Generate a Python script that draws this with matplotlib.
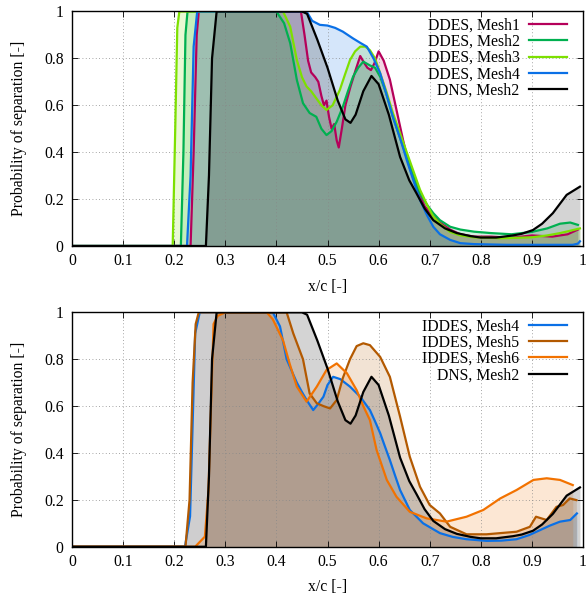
import matplotlib
matplotlib.use("Agg")
import matplotlib.pyplot as plt

plt.rcParams['font.family'] = ['Liberation Serif']
plt.rcParams['font.size'] = 11.3

# DNS reference (shared by both panels)
dns_x = [0, 0.262, 0.268, 0.274, 0.283, 0.45, 0.46, 0.48, 0.50, 0.52, 0.535, 0.545,
         0.555, 0.57, 0.586, 0.60, 0.62, 0.642, 0.66, 0.674, 0.69, 0.707, 0.73, 0.753,
         0.78, 0.80, 0.83, 0.863, 0.88, 0.902, 0.92, 0.941, 0.968, 0.994]
dns_y = [0, 0, 0.3, 0.8, 1.0, 1.0, 0.99, 0.88, 0.76, 0.62, 0.54, 0.525,
         0.56, 0.66, 0.725, 0.69, 0.56, 0.38, 0.28, 0.225, 0.16, 0.11, 0.075, 0.055,
         0.042, 0.036, 0.036, 0.045, 0.052, 0.068, 0.095, 0.14, 0.218, 0.253]

# DDES runs
ddes1_x = [0, 0.232, 0.238, 0.244, 0.248, 0.448, 0.455, 0.462, 0.468, 0.476, 0.482, 0.488,
           0.493, 0.498, 0.503, 0.508, 0.513, 0.518, 0.522, 0.528, 0.535, 0.545, 0.555,
           0.564, 0.572, 0.578, 0.585, 0.592, 0.60, 0.61, 0.622, 0.635, 0.648, 0.66, 0.674,
           0.69, 0.707, 0.72, 0.74, 0.76, 0.787, 0.82, 0.86, 0.90, 0.94, 0.97, 0.99]
ddes1_y = [0, 0, 0.4, 0.9, 1.0, 1.0, 0.9, 0.79, 0.74, 0.72, 0.7, 0.64,
           0.6, 0.62, 0.55, 0.5, 0.52, 0.45, 0.42, 0.5, 0.6, 0.68, 0.75,
           0.81, 0.78, 0.76, 0.75, 0.78, 0.83, 0.79, 0.71, 0.58, 0.45, 0.34, 0.25,
           0.17, 0.125, 0.1, 0.07, 0.05, 0.04, 0.04, 0.035, 0.045, 0.04, 0.05, 0.07]

ddes2_x = [0, 0.213, 0.218, 0.222, 0.226, 0.40, 0.415, 0.427, 0.44, 0.452, 0.465, 0.478,
           0.488, 0.498, 0.508, 0.518, 0.53, 0.54, 0.55, 0.56, 0.57, 0.583, 0.593, 0.603,
           0.615, 0.628, 0.642, 0.655, 0.668, 0.681, 0.695, 0.707, 0.72, 0.74, 0.76, 0.787,
           0.82, 0.86, 0.90, 0.93, 0.955, 0.975, 0.99]
ddes2_y = [0, 0, 0.4, 0.9, 1.0, 1.0, 0.95, 0.865, 0.708, 0.609, 0.567, 0.551,
           0.5, 0.473, 0.49, 0.53, 0.594, 0.66, 0.722, 0.76, 0.786, 0.77, 0.76, 0.722,
           0.65, 0.55, 0.46, 0.381, 0.3, 0.225, 0.175, 0.14, 0.11, 0.082, 0.07, 0.061,
           0.055, 0.05, 0.06, 0.075, 0.095, 0.1, 0.09]

ddes3_x = [0, 0.197, 0.202, 0.206, 0.21, 0.413, 0.427, 0.44, 0.45, 0.459, 0.468, 0.478,
           0.488, 0.498, 0.51, 0.524, 0.534, 0.544, 0.554, 0.564, 0.574, 0.583, 0.593,
           0.603, 0.615, 0.628, 0.642, 0.655, 0.668, 0.681, 0.695, 0.707, 0.72, 0.74, 0.76,
           0.787, 0.84, 0.90, 0.93, 0.955, 0.975, 0.994]
ddes3_y = [0, 0, 0.5, 0.93, 1.0, 1.0, 0.935, 0.793, 0.72, 0.68, 0.66, 0.63,
           0.6, 0.58, 0.6, 0.665, 0.73, 0.793, 0.83, 0.85, 0.85, 0.835, 0.8,
           0.737, 0.66, 0.567, 0.48, 0.40, 0.32, 0.24, 0.175, 0.125, 0.095, 0.06, 0.045,
           0.037, 0.033, 0.037, 0.045, 0.055, 0.065, 0.075]

ddes4_x = [0, 0.225, 0.232, 0.238, 0.245, 0.459, 0.47, 0.485, 0.50, 0.515, 0.53, 0.55,
           0.565, 0.577, 0.59, 0.603, 0.615, 0.628, 0.642, 0.655, 0.668, 0.681, 0.695,
           0.707, 0.72, 0.74, 0.76, 0.787, 0.85, 0.92, 0.98, 0.99, 0.994]
ddes4_y = [0, 0, 0.3, 0.85, 1.0, 1.0, 0.96, 0.943, 0.94, 0.93, 0.914, 0.885,
           0.865, 0.85, 0.8, 0.737, 0.65, 0.551, 0.46, 0.367, 0.28, 0.196, 0.13,
           0.082, 0.05, 0.026, 0.012, 0.008, 0.005, 0.005, 0.005, 0.01, 0.02]

# IDDES runs
iddes4_x = [0, 0.221, 0.231, 0.241, 0.25, 0.393, 0.407, 0.42, 0.43, 0.44, 0.45, 0.459,
            0.472, 0.482, 0.492, 0.50, 0.511, 0.525, 0.544, 0.564, 0.583, 0.593, 0.603,
            0.612, 0.622, 0.632, 0.642, 0.661, 0.687, 0.72, 0.745, 0.772, 0.811, 0.84,
            0.87, 0.895, 0.916, 0.935, 0.955, 0.975, 0.988]
iddes4_y = [0, 0, 0.13, 0.91, 1.0, 1.0, 0.94, 0.80, 0.75, 0.70, 0.66, 0.626,
            0.583, 0.61, 0.64, 0.69, 0.725, 0.715, 0.683, 0.64, 0.583, 0.535, 0.485,
            0.43, 0.37, 0.305, 0.242, 0.157, 0.10, 0.058, 0.042, 0.032, 0.025, 0.026,
            0.032, 0.05, 0.071, 0.09, 0.107, 0.114, 0.142]

iddes5_x = [0, 0.222, 0.23, 0.236, 0.242, 0.248, 0.42, 0.433, 0.452, 0.465, 0.479, 0.492,
            0.505, 0.518, 0.53, 0.544, 0.557, 0.57, 0.583, 0.603, 0.622, 0.642, 0.661,
            0.681, 0.70, 0.72, 0.74, 0.772, 0.811, 0.87, 0.896, 0.908, 0.929, 0.948,
            0.961, 0.974, 0.987]
iddes5_y = [0, 0, 0.2, 0.7, 0.95, 1.0, 1.0, 0.91, 0.80, 0.654, 0.612, 0.6,
            0.59, 0.626, 0.72, 0.80, 0.856, 0.868, 0.86, 0.81, 0.725, 0.555, 0.384,
            0.256, 0.178, 0.142, 0.085, 0.053, 0.053, 0.064, 0.085, 0.128, 0.114, 0.17,
            0.178, 0.206, 0.199]

iddes6_x = [0, 0.241, 0.26, 0.267, 0.272, 0.277, 0.285, 0.30, 0.381, 0.393, 0.413, 0.426,
            0.44, 0.459, 0.479, 0.498, 0.518, 0.538, 0.557, 0.57, 0.583, 0.596, 0.616,
            0.635, 0.661, 0.694, 0.733, 0.772, 0.805, 0.838, 0.87, 0.903, 0.929, 0.955, 0.98]
iddes6_y = [0, 0, 0.043, 0.24, 0.6, 0.95, 0.985, 1.0, 1.0, 0.97, 0.88, 0.78,
            0.683, 0.619, 0.683, 0.754, 0.782, 0.74, 0.668, 0.6, 0.54, 0.413, 0.285,
            0.213, 0.149, 0.121, 0.107, 0.128, 0.157, 0.206, 0.242, 0.285, 0.292, 0.285, 0.263]

top_series = [
    (ddes1_x, ddes1_y, '#b5005a', 'DDES, Mesh1'),
    (ddes2_x, ddes2_y, '#00b050', 'DDES, Mesh2'),
    (ddes3_x, ddes3_y, '#7de000', 'DDES, Mesh3'),
    (ddes4_x, ddes4_y, '#0a70e6', 'DDES, Mesh4'),
    (dns_x, dns_y, 'black', 'DNS, Mesh2'),
]
bottom_series = [
    (iddes4_x, iddes4_y, '#0a70e6', 'IDDES, Mesh4'),
    (iddes5_x, iddes5_y, '#b35900', 'IDDES, Mesh5'),
    (iddes6_x, iddes6_y, '#f27200', 'IDDES, Mesh6'),
    (dns_x, dns_y, 'black', 'DNS, Mesh2'),
]

fig = plt.figure(figsize=(5.87, 6.01), dpi=100)
ax1 = fig.add_axes([0.1227, 0.5907, 0.8705, 0.3902])
ax2 = fig.add_axes([0.1227, 0.0903, 0.8705, 0.3900])


def draw_panel(ax, series):
    for x, y, c, lab in series:
        ax.fill_between(x, y, 0, color=c, alpha=0.17, lw=0)
    for x, y, c, lab in series:
        ax.plot(x, y, color=c, lw=1.6, label=lab)
    ax.set_xlim(0, 1)
    ax.set_ylim(0, 1)
    ax.set_xticks([i / 10 for i in range(11)])
    ax.set_xticklabels(['0', '0.1', '0.2', '0.3', '0.4', '0.5', '0.6', '0.7', '0.8', '0.9', '1'])
    ax.set_yticks([0, 0.2, 0.4, 0.6, 0.8, 1])
    ax.set_yticklabels(['0', '0.2', '0.4', '0.6', '0.8', '1'])
    ax.tick_params(direction='in', top=True, right=True, length=4, width=0.6)
    ax.tick_params(axis='x', pad=5)
    ax.tick_params(axis='y', pad=6)
    ax.grid(True, linestyle=(0, (1, 3)), color='#888888', lw=0.6)
    for s in ax.spines.values():
        s.set_linewidth(1.0)
    ax.set_xlabel('x/c [-]', labelpad=7)
    ax.set_ylabel('Probability of separation [-]', labelpad=12)
    ax.legend(loc='upper right', bbox_to_anchor=(0.994, 1.028), frameon=False,
              markerfirst=False, fontsize=11.3, handlelength=2.45,
              labelspacing=0.02, handletextpad=0.6, borderaxespad=0.4)


draw_panel(ax1, top_series)
draw_panel(ax2, bottom_series)

fig.savefig('out.png', dpi=100)
